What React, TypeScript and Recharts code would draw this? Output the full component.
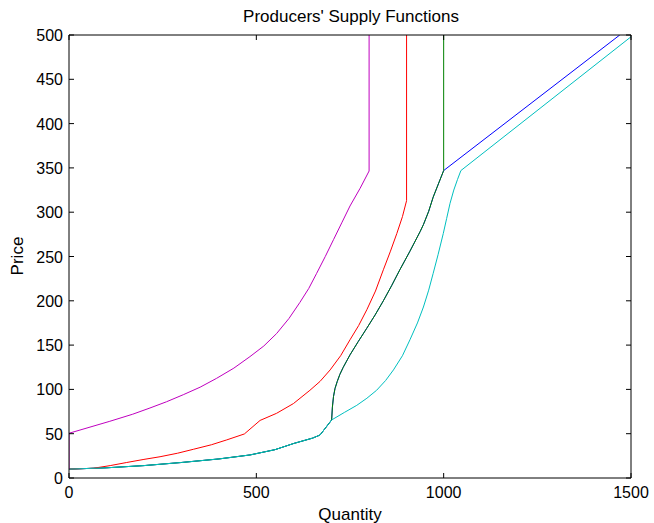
import React from 'react';
import { LineChart, Line, XAxis, YAxis } from 'recharts';

// Tick labels
const xTicks = [0, 500, 1000, 1500];
const yTicks = [0, 50, 100, 150, 200, 250, 300, 350, 400, 450, 500];

// Shared lower part of blue / green / cyan (up to the kink near 700)
const baseQ = [0, 100, 200, 300, 400, 483, 550, 600, 650, 670, 701];
const baseP = [10, 11.5, 14, 17.5, 21.5, 26, 32, 39, 45, 48.5, 65.5];

// Blue/green middle segment
const midQ = [703, 706, 710, 716, 723, 732, 741, 750, 772, 794, 817, 839, 861, 883, 910, 937, 946, 960, 972, 986, 1000];
const midP = [80, 92, 101, 109, 117, 125, 132, 139, 154, 168.5, 184, 200, 217, 235, 256, 278, 286, 301, 317, 332, 347];

// Series tails
const blueTailQ = [1470];
const blueTailP = [500];
const greenTailQ = [1000];
const greenTailP = [500];

const cyanTailQ = [735, 768, 795, 821, 845, 866, 890, 910, 930, 946, 960, 972, 985, 999, 1008, 1017, 1027, 1037, 1046, 1500];
const cyanTailP = [74, 82, 90, 99, 110, 122, 138, 156, 175, 193, 212, 231, 252, 276, 293, 310, 325, 337, 347, 498];

const redQ = [0, 65, 110, 154, 200, 243, 290, 332, 380, 421, 468, 510, 554, 599, 643, 670, 697, 725, 750, 773, 795, 818, 839, 858, 875, 890, 901, 901];
const redP = [10, 11, 14, 17.5, 21, 24, 28, 32.4, 37.5, 43, 49.7, 65, 73, 84, 99, 109, 122, 138, 156, 172, 190, 211, 235, 256, 276, 295, 313, 500];

const magentaQ = [0, 0, 109, 170, 216, 260, 305, 350, 394, 440, 483, 520, 554, 587, 616, 640, 661, 684, 706, 728, 750, 777, 801, 801];
const magentaP = [10, 50.5, 64, 72, 79, 86, 94, 102.5, 112.5, 124, 137, 149, 163, 180, 198, 214, 231, 250, 269, 288, 307, 327, 346.5, 500];

const zip = (q: number[], p: number[]) => q.map((v, i) => ({ q: v, p: p[i] }));

const blueData = zip([...baseQ, ...midQ, ...blueTailQ], [...baseP, ...midP, ...blueTailP]);
const greenData = zip([...baseQ, ...midQ, ...greenTailQ], [...baseP, ...midP, ...greenTailP]);
const cyanData = zip([...baseQ, ...cyanTailQ], [...baseP, ...cyanTailP]);
const redData = zip(redQ, redP);
const magentaData = zip(magentaQ, magentaP);

const FONT = '"Liberation Sans", Arial, Helvetica, sans-serif';
const FS = 16;
const FS_LABEL = 17;
const TL = 5;

const BottomTick = (props: any) => {
  const { x, y, payload } = props;
  return (
    <g>
      <line x1={x} x2={x} y1={y} y2={y - TL} stroke="#000" strokeWidth={1} />
      <text x={x} y={y + 20} textAnchor="middle" fontSize={FS} fontFamily={FONT} fill="#000">
        {payload.value}
      </text>
    </g>
  );
};
const TopTick = (props: any) => {
  const { x, y } = props;
  return <line x1={x} x2={x} y1={y} y2={y + TL} stroke="#000" strokeWidth={1} />;
};
const LeftTick = (props: any) => {
  const { x, y, payload } = props;
  return (
    <g>
      <line x1={x} x2={x + TL} y1={y} y2={y} stroke="#000" strokeWidth={1} />
      <text x={x - 6} y={y + 6} textAnchor="end" fontSize={FS} fontFamily={FONT} fill="#000">
        {payload.value}
      </text>
    </g>
  );
};
const RightTick = (props: any) => {
  const { x, y } = props;
  return <line x1={x} x2={x - TL} y1={y} y2={y} stroke="#000" strokeWidth={1} />;
};

export default function App() {
  return (
    <div style={{ position: 'absolute', left: 0, top: 0, width: 654, height: 523, background: '#fff' }}>
      <LineChart width={654} height={523} margin={{ top: 0, right: 0, bottom: 0, left: 0 }}>
        <XAxis
          xAxisId={0}
          dataKey="q"
          type="number"
          domain={[0, 1500]}
          ticks={xTicks}
          interval={0}
          allowDataOverflow
          height={45}
          tickSize={0}
          tickMargin={0}
          tickLine={false}
          axisLine={{ stroke: '#000', strokeWidth: 1 }}
          tick={<BottomTick />}
          label={{
            content: () => (
              <text x={350} y={520} textAnchor="middle" fontSize={FS_LABEL} fontFamily={FONT} fill="#000">
                Quantity
              </text>
            ),
          }}
        />
        <XAxis
          xAxisId="top"
          orientation="top"
          dataKey="q"
          type="number"
          domain={[0, 1500]}
          ticks={xTicks}
          interval={0}
          allowDataOverflow
          height={35}
          tickSize={0}
          tickMargin={0}
          tickLine={false}
          axisLine={{ stroke: '#000', strokeWidth: 1 }}
          tick={<TopTick />}
          label={{
            content: () => (
              <text x={351} y={22} textAnchor="middle" fontSize={FS_LABEL} fontFamily={FONT} fill="#000">
                Producers' Supply Functions
              </text>
            ),
          }}
        />
        <YAxis
          yAxisId={0}
          type="number"
          domain={[0, 500]}
          ticks={yTicks}
          interval={0}
          allowDataOverflow
          width={69}
          tickSize={0}
          tickMargin={0}
          tickLine={false}
          axisLine={{ stroke: '#000', strokeWidth: 1 }}
          tick={<LeftTick />}
          label={{
            content: () => (
              <text
                x={23}
                y={256}
                textAnchor="middle"
                fontSize={FS_LABEL}
                fontFamily={FONT}
                fill="#000"
                transform="rotate(-90 23 256)"
              >
                Price
              </text>
            ),
          }}
        />
        <YAxis
          yAxisId="right"
          orientation="right"
          type="number"
          domain={[0, 500]}
          ticks={yTicks}
          interval={0}
          allowDataOverflow
          width={23}
          tickSize={0}
          tickMargin={0}
          tickLine={false}
          axisLine={{ stroke: '#000', strokeWidth: 1 }}
          tick={<RightTick />}
        />
        <Line data={blueData} dataKey="p" xAxisId={0} yAxisId={0} type="linear" stroke="#0000ff" strokeWidth={1} dot={false} activeDot={false} isAnimationActive={false} />
        <Line data={greenData} dataKey="p" xAxisId={0} yAxisId={0} type="linear" stroke="#008000" strokeWidth={1} dot={false} activeDot={false} isAnimationActive={false} />
        <Line data={redData} dataKey="p" xAxisId={0} yAxisId={0} type="linear" stroke="#ff0000" strokeWidth={1} dot={false} activeDot={false} isAnimationActive={false} />
        <Line data={cyanData} dataKey="p" xAxisId={0} yAxisId={0} type="linear" stroke="#00bfbf" strokeWidth={1} dot={false} activeDot={false} isAnimationActive={false} />
        <Line data={magentaData} dataKey="p" xAxisId={0} yAxisId={0} type="linear" stroke="#bf00bf" strokeWidth={1} dot={false} activeDot={false} isAnimationActive={false} />
      </LineChart>
    </div>
  );
}
